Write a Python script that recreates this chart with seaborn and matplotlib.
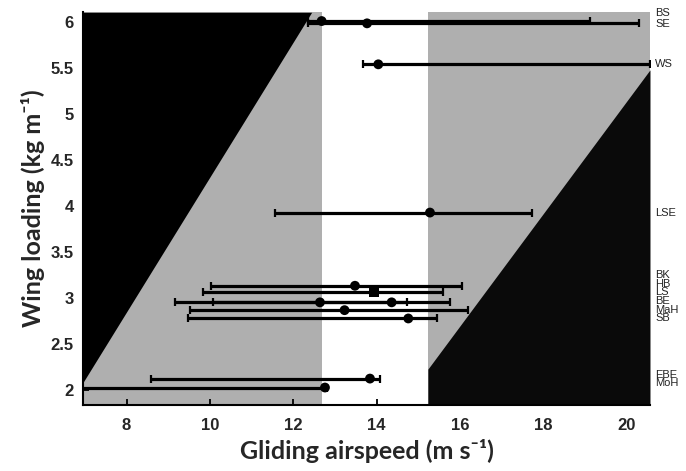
import numpy as np
import pandas as pd
import matplotlib
matplotlib.use("Agg")
import matplotlib.pyplot as plt
import seaborn as sns

# species (label on the right), mean gliding airspeed and its range, wing loading
species = ["BS", "SE", "WS", "LSE", "BK", "HB", "LS", "BE", "MaH", "SB", "EBE", "MoH"]
airspeed = [12.68, 13.77, 14.04, 15.28, 13.48, 13.94, 12.64, 14.36, 13.23, 14.76, 13.84, 12.76]
airspeed_low = [12.35, 12.35, 13.67, 11.55, 10.02, 9.84, 10.07, 9.16, 9.52, 9.48, 8.58, 6.50]
airspeed_high = [19.12, 20.30, 20.55, 17.73, 16.06, 15.60, 14.74, 15.75, 16.20, 15.46, 14.08, 12.80]
wing_loading = [6.01, 5.985, 5.54, 3.93, 3.135, 3.07, 2.955, 2.955, 2.87, 2.78, 2.127, 2.03]
marker_kind = ["o", "o", "o", "o", "o", "s", "o", "o", "o", "o", "o", "o"]

# background bands (gliding airspeed limits) and the two diagonal boundaries
band_edges = [12.68, 15.23]
upper_line_x = [6.96, 12.44]
upper_line_y = [2.09, 6.105]
lower_line_x = [15.23, 20.56]
lower_line_y = [2.23, 5.48]

x_ticks = [8, 10, 12, 14, 16, 18, 20]
y_ticks = [2, 2.5, 3, 3.5, 4, 4.5, 5, 5.5, 6]

# text positions for the stacked species labels (data y)
label_y = [6.10, 5.975, 5.54, 3.93, 3.25, 3.155, 3.065, 2.97, 2.875, 2.78, 2.17, 2.075]

XLIM = (6.96, 20.56)
YLIM = (1.84, 6.105)
GRAY = "#afafaf"


def main():
    sns.set_style("ticks")
    plt.rcParams["font.family"] = ["Liberation Sans", "DejaVu Sans"]

    df = pd.DataFrame({
        "species": species,
        "speed": airspeed,
        "low": airspeed_low,
        "high": airspeed_high,
        "loading": wing_loading,
        "marker": marker_kind,
    })

    fig = plt.figure(figsize=(6.86, 4.71), dpi=100)
    ax = fig.add_axes([0.1214, 0.1401, 0.8261, 0.8338])

    # shaded regions
    ax.axvspan(XLIM[0], band_edges[0], color=GRAY, lw=0, zorder=0)
    ax.axvspan(band_edges[1], XLIM[1], color=GRAY, lw=0, zorder=0)
    ax.fill_between(upper_line_x, upper_line_y, YLIM[1], color="black", lw=0, zorder=1)
    ax.fill_between(lower_line_x, lower_line_y, YLIM[0], color="#0a0a0a", lw=0, zorder=1)

    # ranges
    xerr = [df["speed"] - df["low"], df["high"] - df["speed"]]
    ax.errorbar(df["speed"], df["loading"], xerr=xerr, fmt="none",
                ecolor="black", elinewidth=2.3, capsize=3, capthick=1.6, zorder=3)

    # means
    sns.scatterplot(data=df, x="speed", y="loading", style="marker",
                    markers={"o": "o", "s": "s"}, color="black", s=50,
                    edgecolor="black", linewidth=0, legend=False, ax=ax, zorder=4)

    # species labels at the right edge
    trans = ax.get_yaxis_transform()
    for name, yy in zip(species, label_y):
        ax.text(1.009, yy, name, transform=trans, ha="left", va="center",
                fontsize=8, color="#222222", clip_on=False)

    ax.set_xlim(*XLIM)
    ax.set_ylim(*YLIM)
    ax.set_xticks(x_ticks)
    ax.set_yticks(y_ticks)
    ax.set_yticklabels([f"{v:g}" for v in y_ticks])
    ax.tick_params(direction="in", length=4, width=1.3, labelsize=12, color="black")
    ax.tick_params(axis="x", pad=9)
    ax.tick_params(axis="y", pad=7)
    for lab in ax.get_xticklabels() + ax.get_yticklabels():
        lab.set_fontweight("bold")

    for side in ["top", "right"]:
        ax.spines[side].set_visible(False)
    for side in ["left", "bottom"]:
        ax.spines[side].set_color("black")
        ax.spines[side].set_linewidth(1.5)
        ax.spines[side].set_zorder(5)

    label_font = dict(family=["Lato", "DejaVu Sans"], fontweight="bold", fontsize=18)
    ax.set_xlabel("Gliding airspeed (m s\u207b\u00b9)", labelpad=5, **label_font)
    ax.set_ylabel("Wing loading (kg m\u207b\u00b9)", labelpad=4, **label_font)

    fig.savefig("out.png", dpi=100)
    plt.close(fig)


if __name__ == "__main__":
    main()
